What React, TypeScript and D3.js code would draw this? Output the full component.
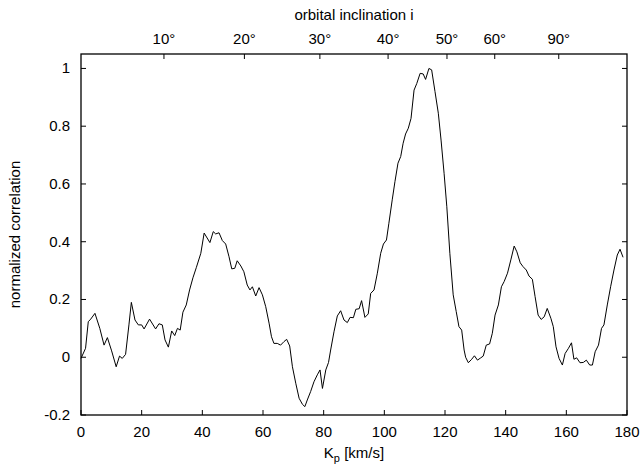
import React from "react";
import * as d3 from "d3";

const kp: number[] = [
  0, 1.5, 2.4, 3.2, 4.6, 6.2, 7.6, 8.7, 10.1, 11.6, 12.7, 13.6, 14.7, 15.8, 16.6, 17.8, 18.9, 20.0, 20.8, 22.6,
  24.6, 25.7, 26.8, 27.7, 28.8, 29.9, 30.9, 31.8, 32.7, 33.6, 34.7, 35.8, 36.9, 38.0, 39.5, 40.6,
  42.5, 43.6, 44.4, 45.5, 46.6, 47.7, 48.8, 49.7, 50.7, 51.5, 52.7, 53.7, 54.8, 55.7, 56.5, 57.6, 58.7, 59.8,
  60.9, 62.0, 62.8, 63.6, 64.7, 65.8, 66.9, 67.8, 68.8, 69.7, 70.8, 71.9, 73.0, 73.8, 74.6, 75.7, 76.8, 77.9,
  78.8, 79.6, 80.7, 81.6, 82.3, 83.4, 84.5, 85.6, 86.7, 87.8, 88.7, 89.8, 90.6, 91.7, 92.5, 93.6, 94.7, 95.5,
  96.6, 97.7, 98.8, 99.7, 100.7, 101.5, 102.6, 103.5, 104.5, 105.4, 106.2, 107.0, 107.9, 108.8, 109.8, 110.7,
  111.8, 112.8, 113.6, 114.7, 115.6, 116.7, 117.8, 118.7, 119.7, 120.6, 121.6, 122.7, 123.7, 124.6, 125.5,
  126.3, 126.8, 127.7, 128.8, 129.7, 130.7, 131.8, 132.6, 133.6, 134.7, 135.6, 136.5, 137.6, 138.6, 139.5,
  140.6, 141.7, 142.8, 143.7, 144.8, 145.7, 146.8, 147.7, 148.8, 149.7, 150.7, 151.7, 152.7, 153.7, 154.9,
  155.7, 156.6, 157.6, 158.7, 159.6, 160.7, 161.7, 162.5, 163.4, 164.5, 165.6, 166.6, 167.7, 168.6, 169.5,
  170.6, 171.6, 172.4, 173.5, 174.6, 175.7, 176.8, 177.7, 178.7,
];

const correlation: number[] = [
  -0.004, 0.031, 0.123, 0.132, 0.152, 0.1, 0.042, 0.068, 0.022, -0.033, 0.004, -0.004, 0.01, 0.112, 0.19, 0.129, 0.112, 0.112, 0.098, 0.132,
  0.098, 0.116, 0.112, 0.06, 0.035, 0.091, 0.075, 0.1, 0.094, 0.156, 0.181, 0.233, 0.275, 0.31, 0.36, 0.43,
  0.397, 0.435, 0.427, 0.431, 0.404, 0.392, 0.348, 0.306, 0.308, 0.334, 0.316, 0.296, 0.25, 0.233, 0.244, 0.212, 0.241, 0.216,
  0.175, 0.118, 0.071, 0.048, 0.048, 0.042, 0.054, 0.062, 0.039, -0.033, -0.09, -0.142, -0.163, -0.171, -0.148, -0.119, -0.085, -0.061,
  -0.044, -0.108, -0.044, -0.018, 0.025, 0.088, 0.143, 0.161, 0.129, 0.12, 0.138, 0.137, 0.166, 0.168, 0.196, 0.138, 0.15, 0.221,
  0.233, 0.291, 0.36, 0.392, 0.406, 0.464, 0.545, 0.608, 0.672, 0.695, 0.741, 0.773, 0.793, 0.827, 0.925, 0.948,
  0.983, 0.981, 0.962, 1.0, 0.995, 0.92, 0.845, 0.752, 0.637, 0.521, 0.36, 0.216, 0.158, 0.106, 0.094,
  0.025, 0.0, -0.019, -0.007, 0.005, -0.01, -0.002, 0.004, 0.042, 0.046, 0.083, 0.146, 0.181, 0.244, 0.262,
  0.291, 0.337, 0.385, 0.365, 0.327, 0.314, 0.302, 0.281, 0.27, 0.21, 0.146, 0.131, 0.14, 0.169, 0.135,
  0.106, 0.036, -0.004, -0.027, 0.013, 0.031, 0.05, -0.007, -0.002, -0.019, -0.018, -0.01, -0.027, -0.027, 0.019,
  0.042, 0.1, 0.112, 0.181, 0.244, 0.302, 0.354, 0.374, 0.346,
];

const xTicks: number[] = [0, 20, 40, 60, 80, 100, 120, 140, 160, 180];
const yTicks: number[] = [-0.2, 0, 0.2, 0.4, 0.6, 0.8, 1];
const inclinationTicks: number[] = [10, 20, 30, 40, 50, 60, 90];
const kpMax = 157.5; // Kp at i = 90°

const W = 642;
const H = 470;
const left = 81;
const right = 627;
const top = 54;
const bottom = 415;
const FONT = "'Liberation Sans', Arial, Helvetica, sans-serif";
const FS = 15;
const TICK = 5;

export default function App() {
  const x = d3.scaleLinear().domain([0, 180]).range([left, right]);
  const y = d3.scaleLinear().domain([-0.2, 1.05]).range([bottom, top]);
  const pts: [number, number][] = kp.map((k, i) => [k, correlation[i]]);
  const line = d3
    .line<[number, number]>()
    .x((d) => x(d[0]))
    .y((d) => y(d[1]));
  const yFmt = (v: number) => (Math.abs(v) < 1e-9 ? "0" : String(+v.toFixed(1)));

  return (
    <svg
      width={W}
      height={H}
      viewBox={`0 0 ${W} ${H}`}
      style={{ position: "absolute", left: 0, top: 0, background: "#fff" }}
      fontFamily={FONT}
      fontSize={FS}
    >
      <rect x={0} y={0} width={W} height={H} fill="#fff" />
      <path d={line(pts) || ""} fill="none" stroke="#000" strokeWidth={1} />
      {/* bottom ticks */}
      {xTicks.map((t) => (
        <g key={"x" + t}>
          <line x1={x(t)} x2={x(t)} y1={bottom} y2={bottom - TICK} stroke="#000" />
          <text x={x(t)} y={bottom + 22} textAnchor="middle">
            {t}
          </text>
        </g>
      ))}
      {/* left & right ticks */}
      {yTicks.map((t) => (
        <g key={"y" + t}>
          <line x1={left} x2={left + TICK} y1={y(t)} y2={y(t)} stroke="#000" />
          <line x1={right} x2={right - TICK} y1={y(t)} y2={y(t)} stroke="#000" />
          <text x={left - 11} y={y(t) + 5} textAnchor="end">
            {yFmt(t)}
          </text>
        </g>
      ))}
      {/* top inclination ticks */}
      {inclinationTicks.map((deg) => {
        const px = x(kpMax * Math.sin((deg * Math.PI) / 180));
        return (
          <g key={"i" + deg}>
            <line x1={px} x2={px} y1={top} y2={top + TICK} stroke="#000" />
            <text x={px} y={top - 10} textAnchor="middle">
              {deg + "°"}
            </text>
          </g>
        );
      })}
      <rect
        x={left}
        y={top}
        width={right - left}
        height={bottom - top}
        fill="none"
        stroke="#000"
        strokeWidth={1.3}
      />
      <text x={(left + right) / 2} y={20} textAnchor="middle">
        orbital inclination i
      </text>
      <text x={(left + right) / 2} y={458} textAnchor="middle">
        K<tspan dy={4} fontSize={11}>p</tspan>
        <tspan dy={-4}> [km/s]</tspan>
      </text>
      <text
        transform={`translate(20, ${(top + bottom) / 2}) rotate(-90)`}
        textAnchor="middle"
      >
        normalized correlation
      </text>
    </svg>
  );
}
